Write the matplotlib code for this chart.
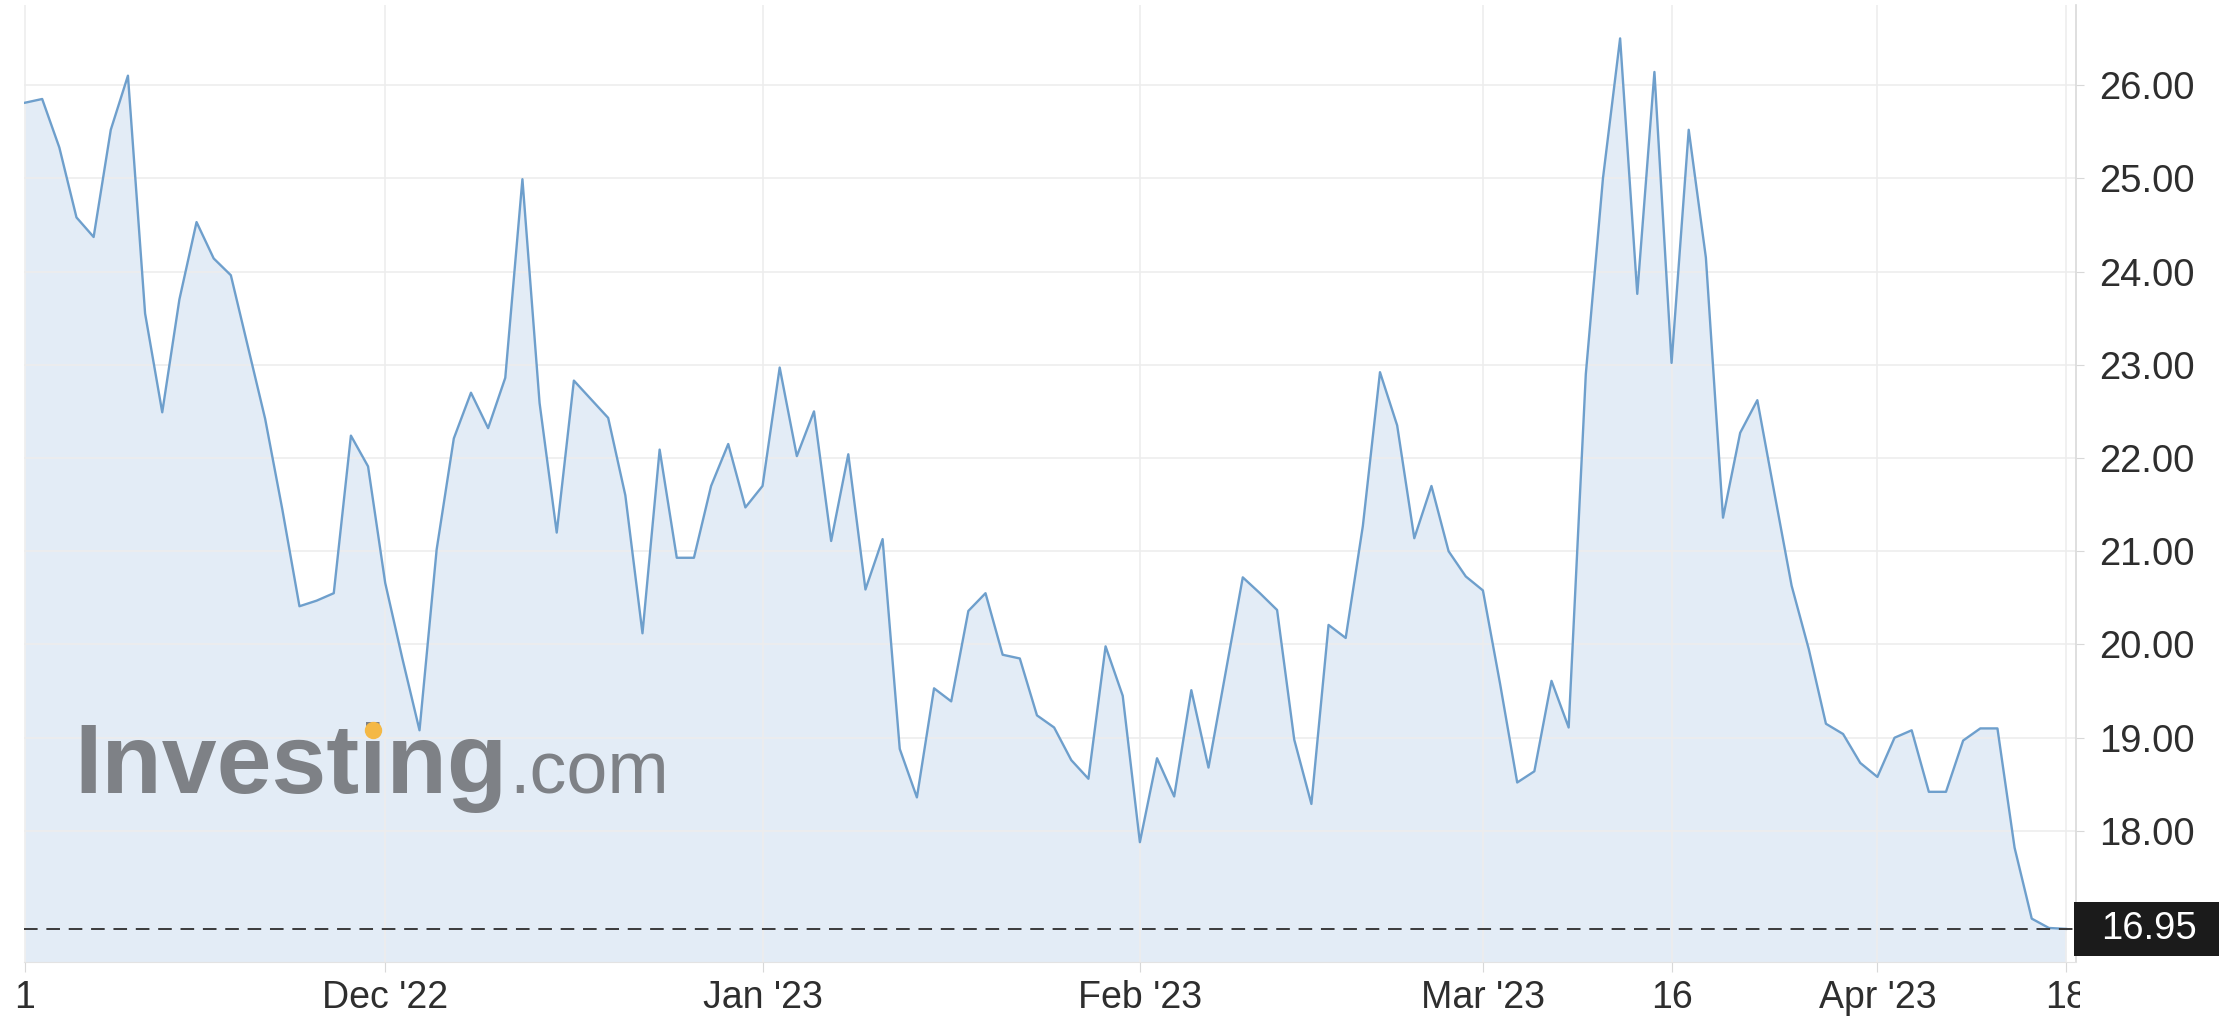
import numpy as np
import pandas as pd
import matplotlib
matplotlib.use('Agg')
import matplotlib.pyplot as plt
from matplotlib.patches import Rectangle
from matplotlib.lines import Line2D
from matplotlib.transforms import Bbox, TransformedBbox, blended_transform_factory

# dias uteis de 1 Nov 2022 a 18 Abr 2023 (sem o dia de Acao de Gracas)
datas = pd.bdate_range('2022-11-01', '2023-04-18')
datas = datas[datas != pd.Timestamp('2022-11-24')]

# valores (fecho diario)
valores = [
    25.81, 25.85, 25.33, 24.58, 24.37, 25.52, 26.10, 23.55, 22.49, 23.70,
    24.53, 24.14, 23.96, 23.19, 22.42, 21.45, 20.41, 20.47, 20.55, 22.24,
    21.91, 20.66, 19.85, 19.08, 21.02, 22.21, 22.70, 22.32, 22.86, 24.99,
    22.59, 21.20, 22.83, 22.63, 22.43, 21.60, 20.12, 22.09, 20.93, 20.93,
    21.70, 22.15, 21.47, 21.70, 22.97, 22.02, 22.50, 21.11, 22.04, 20.59,
    21.13, 18.88, 18.36, 19.53, 19.39, 20.36, 20.55, 19.89, 19.85, 19.24,
    19.11, 18.76, 18.56, 19.98, 19.45, 17.88, 18.78, 18.37, 19.51, 18.68,
    19.70, 20.72, 20.55, 20.37, 18.98, 18.29, 20.21, 20.07, 21.27, 22.92,
    22.35, 21.14, 21.70, 21.00, 20.73, 20.58, 19.58, 18.52, 18.64, 19.61,
    19.11, 22.90, 25.00, 26.50, 23.76, 26.14, 23.02, 25.52, 24.15, 21.36,
    22.27, 22.62, 21.62, 20.63, 19.95, 19.15, 19.04, 18.73, 18.58, 19.00,
    19.08, 18.42, 18.42, 18.97, 19.10, 19.10, 17.82, 17.06, 16.96, 16.95,
]
ultimo = 16.95

marcas_datas = ['2022-11-01', '2022-12-01', '2023-01-02', '2023-02-01',
                '2023-03-01', '2023-03-16', '2023-04-03', '2023-04-18']
marcas_texto = ['1', "Dec '22", "Jan '23", "Feb '23", "Mar '23", '16', "Apr '23", '18']
niveis_y = [18, 19, 20, 21, 22, 23, 24, 25, 26]

plt.rcParams['font.family'] = ['Liberation Sans', 'DejaVu Sans']

W, H = 2231, 1023
fig = plt.figure(figsize=(W / 100, H / 100), dpi=100)
ax = fig.add_axes([24 / W, 61 / H, 2052 / W, 957 / H])

x = np.arange(len(valores))
y_min, y_max = 16.595, 26.858

ax.fill_between(x, valores, y_min, color='#e3ecf6', lw=0, zorder=1)
ax.plot(x, valores, color='#6e9fcc', lw=1.7, zorder=4)
ax.axhline(ultimo, color='#3a3a3a', lw=1.4, ls=(0, (7, 4.5)), zorder=4)

ax.set_xlim(-0.06, len(valores) - 1 + 0.58)
ax.set_ylim(y_min, y_max)

pos = datas.get_indexer(pd.to_datetime(marcas_datas))
ax.set_xticks(pos, marcas_texto)
ax.set_yticks(niveis_y, [f'{v:.2f}' for v in niveis_y])
ax.yaxis.tick_right()

ax.set_axisbelow('line')
ax.grid(True, color='#ededed', lw=1.2)

for s in ['top', 'left']:
    ax.spines[s].set_visible(False)
ax.spines['bottom'].set_color('#e3e3e3')
ax.spines['right'].set_color('#d9d9d9')
ax.spines['right'].set_linewidth(1.2)

ax.tick_params(axis='x', direction='out', length=7, color='#d8d8d8',
               labelsize=27, labelcolor='#2e2e2e', pad=6)
ax.tick_params(axis='y', direction='out', length=6, color='#d8d8d8',
               labelsize=27.5, labelcolor='#2e2e2e', pad=11)

# ultimo rotulo cortado pela margem do eixo
corte = TransformedBbox(Bbox([[0, 0], [2080 / W, 1]]), fig.transFigure)
rot = ax.get_xticklabels()[-1]
rot.set_clip_box(corte)
rot.set_clip_on(True)

# caixa com o ultimo valor
trans = blended_transform_factory(ax.transAxes, ax.transData)
ax.add_patch(Rectangle((0.999, ultimo - 0.29), 0.0707, 0.58, transform=trans,
                       facecolor='#1b1b1b', edgecolor='none', clip_on=False, zorder=6))
ax.text(1.0122, ultimo, f'{ultimo:.2f}', transform=trans, color='white',
        fontsize=27.5, va='center', ha='left', clip_on=False, zorder=7)

# marca de agua
cinza = '#7e8186'
x0, base = 74 / W, 1 - 793 / H
t1 = ax.text(x0, base, 'Investing', transform=fig.transFigure, fontsize=71,
             fontweight='bold', color=cinza, va='baseline', ha='left', zorder=3)
renderer = fig.canvas.get_renderer()
larg = t1.get_window_extent(renderer).width / fig.bbox.width
ax.text(x0 + larg + 0.001, base, '.com', transform=fig.transFigure, fontsize=53,
        color=cinza, va='baseline', ha='left', zorder=3)

tmp = ax.text(0, 0, 'Invest', fontsize=71, fontweight='bold', transform=fig.transFigure)
l_inv = tmp.get_window_extent(renderer).width / fig.bbox.width
tmp.set_text('i')
l_i = tmp.get_window_extent(renderer).width / fig.bbox.width
tmp.remove()
fig.add_artist(Line2D([x0 + l_inv + l_i / 2], [base + 63 / H], marker='o', ms=11.5,
                      color='#f4b845', lw=0, transform=fig.transFigure, zorder=5))

fig.savefig('out.png', dpi=100)
